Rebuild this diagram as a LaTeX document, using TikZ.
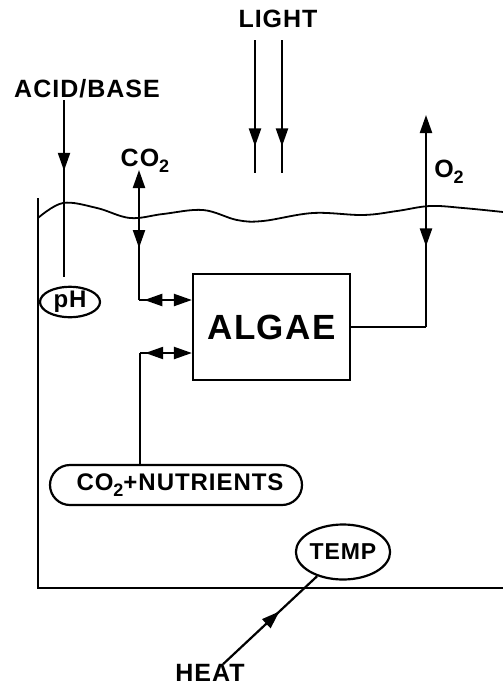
\documentclass[tikz,border=0pt]{standalone}
\usepackage{fontspec}
\setmainfont[LetterSpace=4]{Liberation Sans}
\usetikzlibrary{arrows.meta,decorations.markings,shapes.geometric}
\newcommand{\subtwo}{\raisebox{-6pt}{\fontsize{18}{18}\selectfont 2}}
\begin{document}
\begin{tikzpicture}[x=1pt,y=-1pt,
  ln/.style={line width=2.2pt},
  >={Triangle[length=18pt,width=12pt]},
  lbl/.style={inner sep=0pt,font=\fontsize{25}{25}\selectfont\bfseries},
  markfwd/.style={postaction={decorate},decoration={markings,mark=at position #1 with {\arrow{>}}}},
  markrev/.style={postaction={decorate},decoration={markings,mark=at position #1 with {\arrowreversed{>}}}},
  oval/.style={draw,ellipse,ln,inner sep=0pt,font=\fontsize{23}{23}\selectfont\bfseries}
]
\useasboundingbox (0,0) rectangle (503,689);

% labels
\node[lbl] (light) at (278,19) {LIGHT};
\node[lbl] (acid) at (87,89) {ACID/BASE};
\node[lbl] (co2) at (145,161) {CO\subtwo};
\node[lbl] (o2) at (449,172) {O\subtwo};
\node[lbl] (heat) at (210,673) {HEAT};

% shapes
\node[oval,minimum width=60pt,minimum height=30pt,font=\fontsize{24}{24}\selectfont\bfseries] (ph) at (70,302) {pH};
\node[draw,ln,minimum width=157pt,minimum height=106pt,font=\fontsize{35}{35}\selectfont\bfseries] (algae) at (271.5,327) {ALGAE};
\node[draw,ln,rounded corners=20pt,minimum width=252pt,minimum height=40pt,font=\fontsize{24}{24}\selectfont\bfseries] (nut) at (176,485) {\hspace{8pt}CO\subtwo+NUTRIENTS};
\node[oval,minimum width=93pt,minimum height=55pt] (temp) at (343,552) {TEMP};

% tank and water
\draw[ln] (38,198) -- (38,588) -- (503,588);
\draw[line width=1.8pt] plot[smooth,tension=0.6] coordinates {(38,218) (63,203) (97,208) (130,218) (163,214) (203,210) (237,220) (263,221) (313,213) (363,215) (397,211) (430,206) (463,208) (503,212)};

% coordinates
\coordinate (l1t) at (255,40);
\coordinate (l1b) at (255,173);
\coordinate (l2t) at (282,40);
\coordinate (l2b) at (282,173);
\coordinate (a1) at (64,100);
\coordinate (a2) at (64,277);
\coordinate (co2tip) at (139,170);
\coordinate (c1) at (139,300);
\coordinate (o2tip) at (426,115);
\coordinate (c3) at (426,327);
\coordinate (c2) at (140,353);

% light
\draw[ln,markfwd=0.8] (l1t) -- (l1b);
\draw[ln,markfwd=0.8] (l2t) -- (l2b);
% acid/base
\draw[ln,markfwd=0.4] (a1) -- (a2);
% CO2 exchange
\draw[ln,<-,markfwd=0.6] (co2tip) -- (c1);
\draw[ln,->,markrev=0.1] (c1) -- (algae.west |- c1);
% O2
\draw[ln] (algae.east |- c3) -- (c3);
\draw[ln,<-,markfwd=0.62] (o2tip) -- (c3);
% nutrients
\draw[ln] (nut.north -| c2) -- (c2);
\draw[ln,->,markrev=0.1] (c2) -- (algae.west |- c2);
% heat
\draw[ln,markfwd=0.6] ([xshift=13pt]heat.north) -- (temp);
\end{tikzpicture}
\end{document}
